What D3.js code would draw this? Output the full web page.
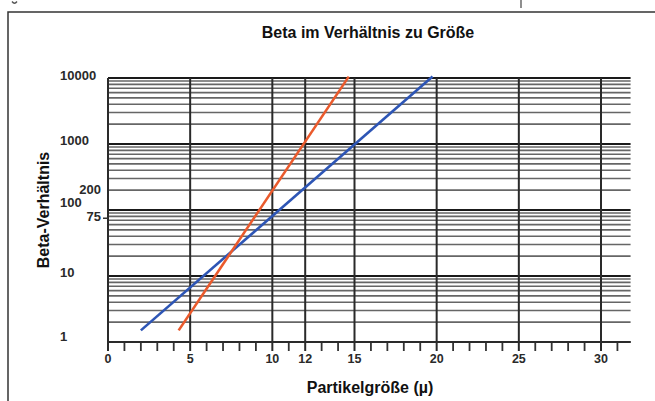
<!DOCTYPE html>
<html><head><meta charset="utf-8">
<script src="https://cdn.jsdelivr.net/npm/d3@7"></script>
<style>html,body{margin:0;padding:0;background:#fff;}svg{display:block;font-family:"Liberation Sans",Arial,sans-serif;}</style>
</head><body><div id="chart"></div>
<script>
const title = "Beta im Verhältnis zu Größe";
const xTitle = "Partikelgröße (µ)";
const yTitle = "Beta-Verhältnis";
const xTickLabels = [0, 5, 10, 12, 15, 20, 25, 30];
const xMinorTicks = d3.range(1, 32);
const yDecadeLabels = [1, 10, 100, 1000, 10000];
const yExtraLabels = [200, 75];
const yGridDecades = [1, 10, 100, 1000];
const blueX = [2, 19.75];
const blueY = [1.5, 10500];
const redX = [4.3, 14.65];
const redY = [1.5, 10500];

const W = 655, H = 401;
const svg = d3.select("#chart").append("svg").attr("width", W).attr("height", H);

const x = d3.scaleLinear().domain([0, 30]).range([108, 601]);
const y = d3.scaleLog().domain([1, 10000]).range([342, 78]);
const xMax = 31.8;

// page fragments / frame
svg.append("path").attr("d", "M12,1.5Q14.5,5 17,1.5").attr("fill", "none").attr("stroke", "#555").attr("stroke-width", 1.3);
svg.append("line").attr("x1", 521).attr("x2", 521).attr("y1", 0).attr("y2", 8).attr("stroke", "#444").attr("stroke-width", 1.2);
svg.append("path").attr("d", "M8,420V12H670").attr("fill", "none").attr("stroke", "#333").attr("stroke-width", 1.5);

// horizontal grid
const gridVals = [];
yGridDecades.forEach(d => { for (let k = 1; k <= 9; k++) gridVals.push(d * k); });
gridVals.push(10000);
const isDecade = d => Math.abs(Math.log10(d) % 1) < 1e-9;
svg.append("g").selectAll("line").data(gridVals).join("line")
  .attr("x1", x(0)).attr("x2", x(xMax))
  .attr("y1", d => y(d)).attr("y2", d => y(d))
  .attr("stroke", d => isDecade(d) ? "#1a1a1a" : "#666")
  .attr("stroke-width", d => isDecade(d) ? 2.2 : 1.6);

// minor ticks
svg.append("g").selectAll("line").data(xMinorTicks.filter(v => !xTickLabels.includes(v))).join("line")
  .attr("x1", d => x(d)).attr("x2", d => x(d))
  .attr("y1", y(1)).attr("y2", y(1) + 9)
  .attr("stroke", "#333").attr("stroke-width", 1.8);

// major vertical lines
svg.append("g").selectAll("line").data(xTickLabels).join("line")
  .attr("x1", d => x(d)).attr("x2", d => x(d))
  .attr("y1", y(10000)).attr("y2", y(1) + 9)
  .attr("stroke", "#2a2a2a").attr("stroke-width", 2);

// x axis line
svg.append("line").attr("x1", x(0)).attr("x2", x(xMax)).attr("y1", y(1)).attr("y2", y(1))
  .attr("stroke", "#2a2a2a").attr("stroke-width", 2);

// x tick labels
svg.append("g").selectAll("text").data(xTickLabels).join("text")
  .attr("x", d => x(d)).attr("y", 363)
  .attr("text-anchor", "middle").attr("font-size", 12.5).attr("font-weight", "bold").attr("fill", "#2a2a2a")
  .text(d => d);

// y labels
const yLabelPos = {1: 341, 10: 277, 100: 207, 1000: 145, 10000: 80, 200: 194, 75: 221};
svg.append("g").selectAll("text").data(yDecadeLabels).join("text")
  .attr("x", 60).attr("y", d => yLabelPos[d])
  .attr("font-size", 13).attr("font-weight", "bold").attr("fill", "#2a2a2a")
  .text(d => d);
svg.append("g").selectAll("text").data(yExtraLabels).join("text")
  .attr("x", 101).attr("y", d => yLabelPos[d]).attr("text-anchor", "end")
  .attr("font-size", 13).attr("font-weight", "bold").attr("fill", "#2a2a2a")
  .text(d => d);
svg.append("line").attr("x1", 103).attr("x2", 108).attr("y1", y(75)).attr("y2", y(75))
  .attr("stroke", "#333").attr("stroke-width", 1.5);

// data lines
const line = d3.line().x(d => x(d[0])).y(d => y(d[1]));
svg.append("path").datum(blueX.map((v, i) => [v, blueY[i]])).attr("d", line)
  .attr("fill", "none").attr("stroke", "#2d55b5").attr("stroke-width", 2.6);
svg.append("path").datum(redX.map((v, i) => [v, redY[i]])).attr("d", line)
  .attr("fill", "none").attr("stroke", "#ea5a2c").attr("stroke-width", 2.6);

// titles
svg.append("text").attr("x", 368).attr("y", 38).attr("text-anchor", "middle")
  .attr("font-size", 16).attr("font-weight", "bold").attr("fill", "#111").text(title);
svg.append("text").attr("x", 370).attr("y", 393).attr("text-anchor", "middle")
  .attr("font-size", 16).attr("font-weight", "bold").attr("fill", "#111").text(xTitle);
svg.append("text").attr("transform", "translate(49,210) rotate(-90)").attr("text-anchor", "middle")
  .attr("font-size", 16).attr("font-weight", "bold").attr("fill", "#111").text(yTitle);
</script>
</body></html>
